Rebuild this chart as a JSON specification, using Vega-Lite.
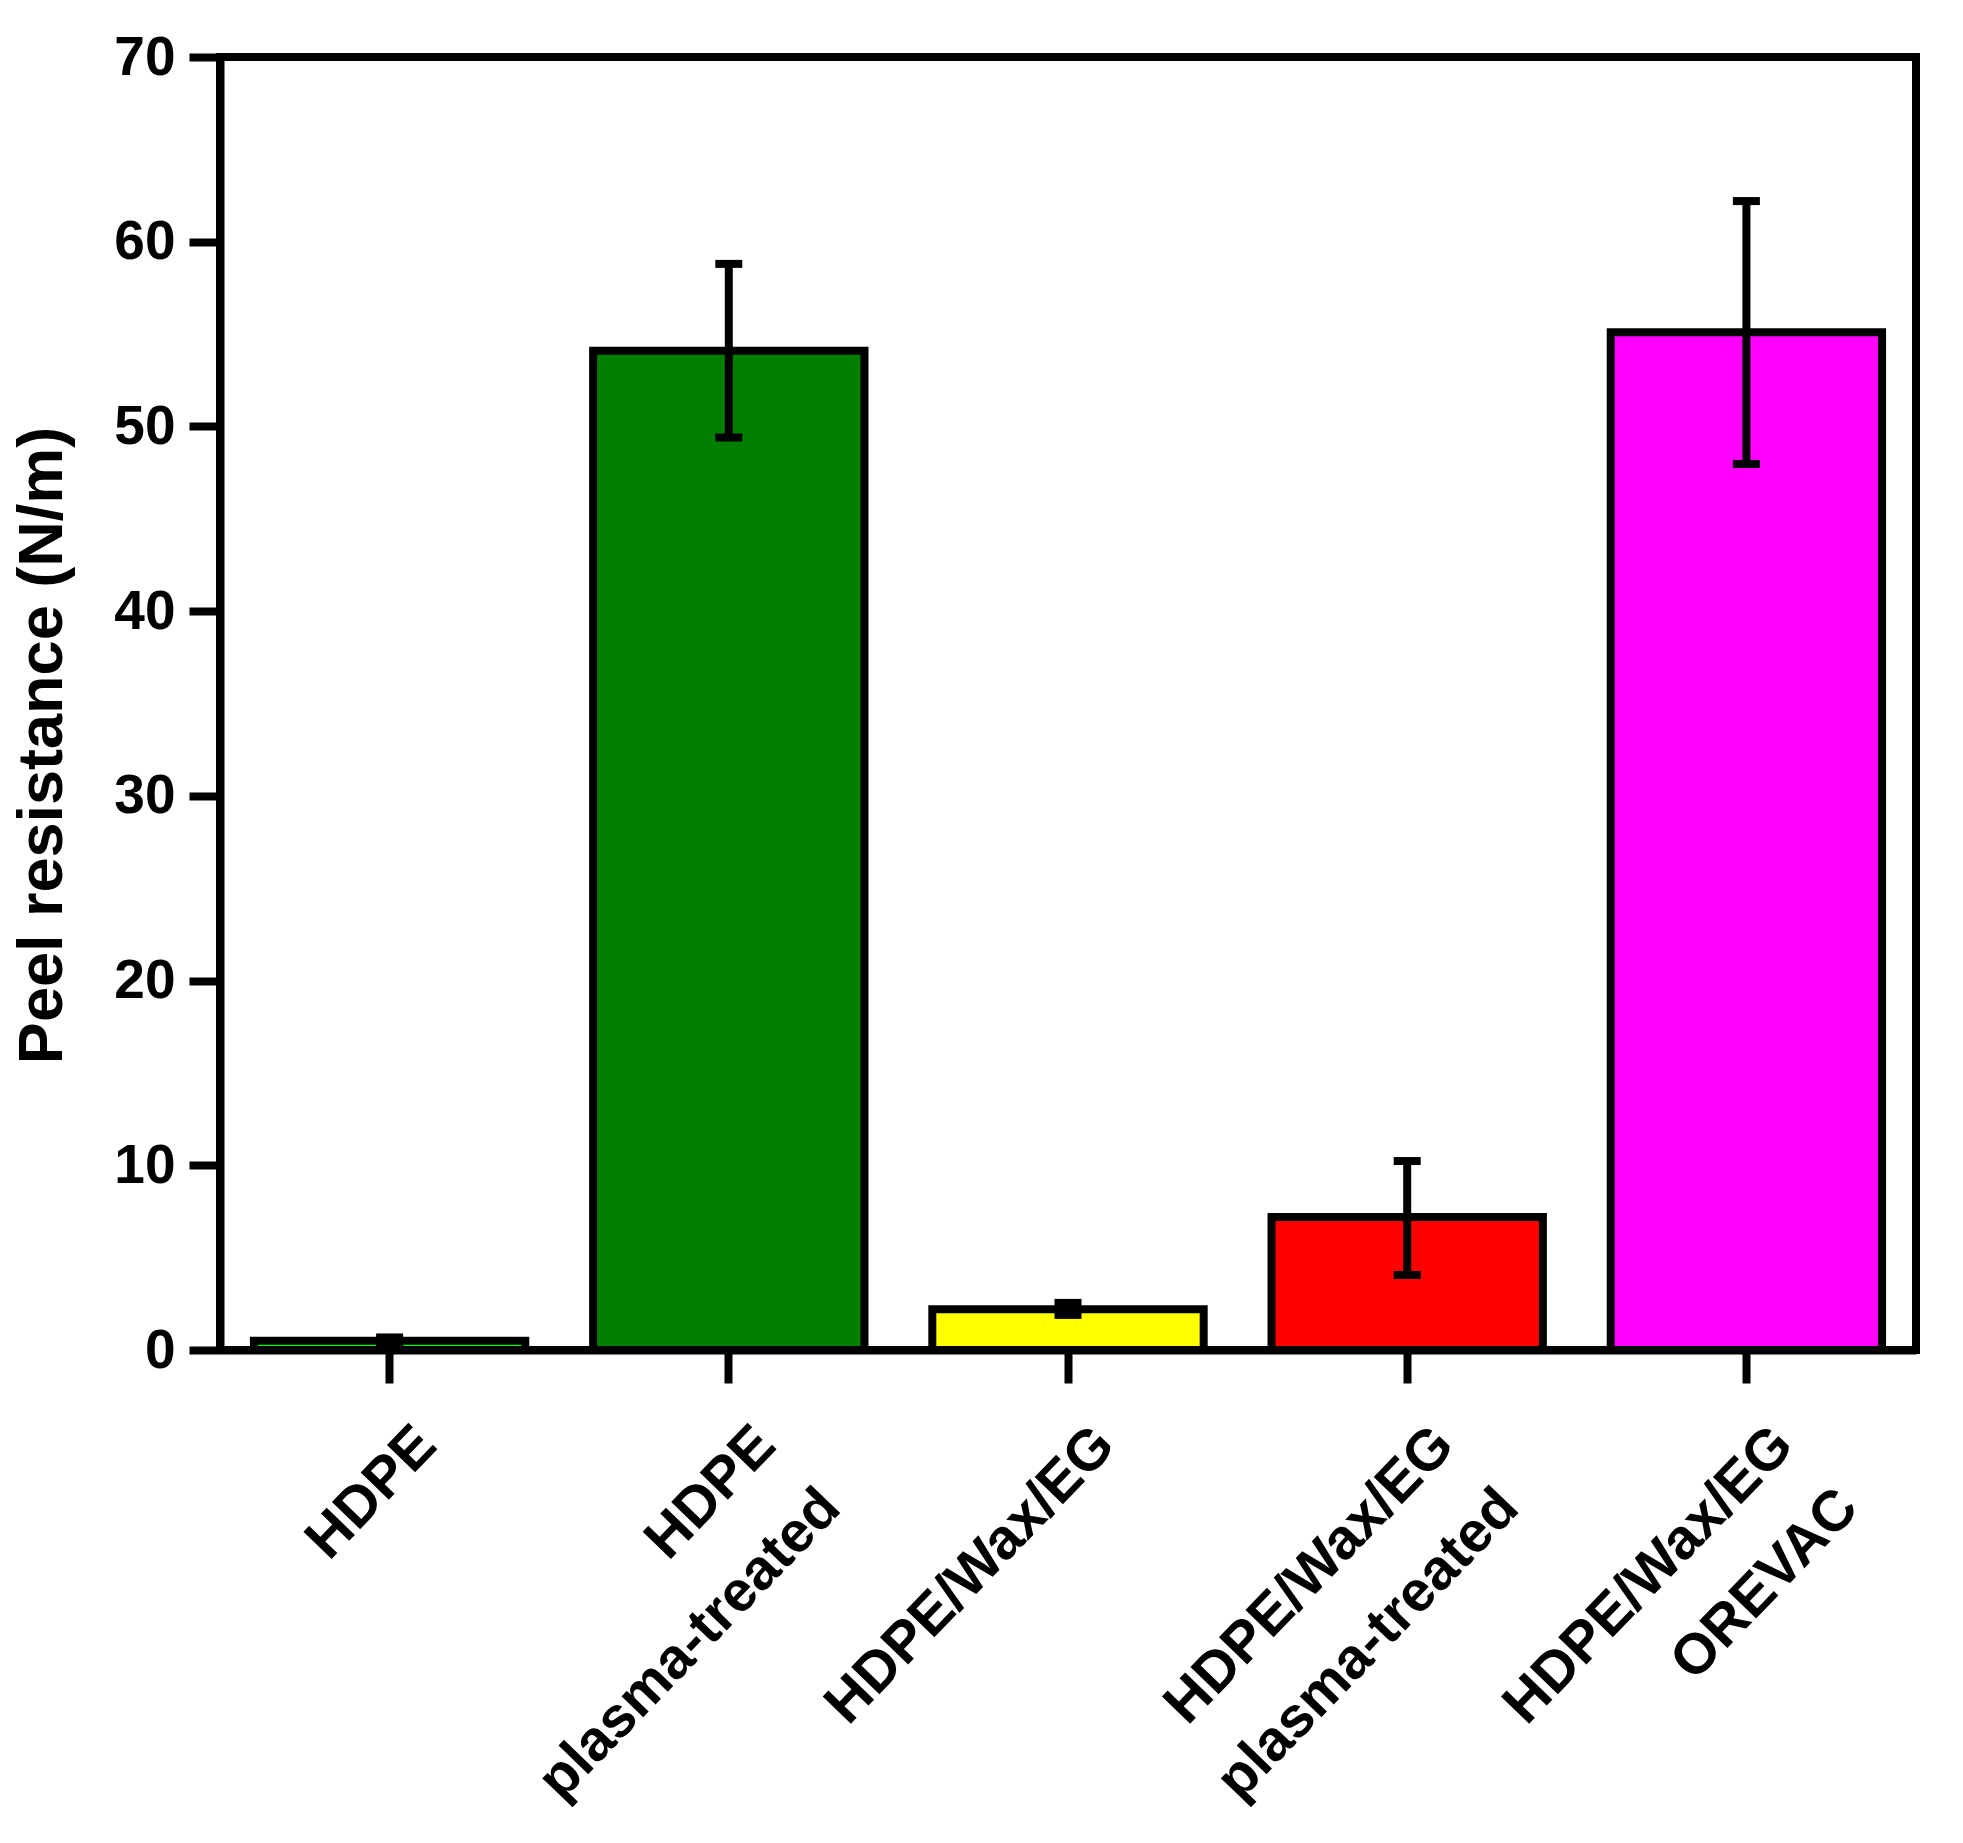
{
  "$schema": "https://vega.github.io/schema/vega-lite/v6.json",
  "width": 1696,
  "height": 1293,
  "autosize": {"type": "none"},
  "padding": {"left": 220, "top": 57, "right": 47, "bottom": 493},
  "background": "white",
  "config": {
    "view": {"stroke": "black", "strokeWidth": 8},
    "font": "Liberation Sans"
  },
  "data": {
    "values": [
      {"sample": "HDPE", "peel": 0.5, "low": 0.32, "high": 0.68},
      {"sample": "HDPE plasma-treated", "peel": 54.1, "low": 49.4, "high": 58.8},
      {"sample": "HDPE/Wax/EG", "peel": 2.2, "low": 1.9, "high": 2.55},
      {"sample": "HDPE/Wax/EG plasma-treated", "peel": 7.2, "low": 4.06, "high": 10.23},
      {"sample": "HDPE/Wax/EG OREVAC", "peel": 55.1, "low": 47.97, "high": 62.2}
    ]
  },
  "encoding": {
    "x": {
      "field": "sample",
      "type": "nominal",
      "sort": null,
      "scale": {"paddingInner": 0.2, "paddingOuter": 0.1},
      "axis": {
        "title": null,
        "labelExpr": "split(datum.label, ' ')",
        "labelAngle": -46,
        "labelAlign": "right",
        "labelBaseline": "top",
        "labelFont": "Liberation Sans",
        "labelFontSize": 57,
        "labelFontWeight": "bold",
        "labelColor": "black",
        "labelLimit": 0,
        "labelOverlap": false,
        "labelPadding": 33,
        "labelOffset": 17,
        "labelLineHeight": 90,
        "tickSize": 33,
        "tickWidth": 8,
        "tickColor": "black",
        "domainColor": "black",
        "domainWidth": 8
      }
    }
  },
  "layer": [
    {
      "mark": {"type": "bar", "stroke": "black", "strokeWidth": 8},
      "encoding": {
        "y": {
          "field": "peel",
          "type": "quantitative",
          "title": "Peel resistance (N/m)",
          "scale": {"domain": [0, 70], "nice": false},
          "axis": {
            "values": [0, 10, 20, 30, 40, 50, 60, 70],
            "grid": false,
            "labelFont": "Liberation Sans",
            "labelFontSize": 55,
            "labelFontWeight": "bold",
            "labelColor": "black",
            "labelPadding": 14,
            "tickSize": 31,
            "tickWidth": 8,
            "tickColor": "black",
            "domainColor": "black",
            "domainWidth": 8,
            "titleFont": "Liberation Sans",
            "titleFontSize": 63,
            "titleFontWeight": "bold",
            "titleColor": "black",
            "titleX": -178,
            "titleY": 688,
            "titleAngle": -90,
            "titleAlign": "center",
            "titleBaseline": "middle"
          }
        },
        "color": {
          "field": "sample",
          "type": "nominal",
          "legend": null,
          "scale": {
            "domain": ["HDPE", "HDPE plasma-treated", "HDPE/Wax/EG", "HDPE/Wax/EG plasma-treated", "HDPE/Wax/EG OREVAC"],
            "range": ["#00FF00", "#007F00", "#FFFF00", "#FF0000", "#FF00FF"]
          }
        }
      }
    },
    {
      "mark": {"type": "rule", "color": "black", "strokeWidth": 8},
      "encoding": {
        "y": {"field": "low", "type": "quantitative", "title": "Peel resistance (N/m)"},
        "y2": {"field": "high"}
      }
    },
    {
      "mark": {"type": "tick", "color": "black", "thickness": 8, "size": 27, "opacity": 1},
      "encoding": {
        "y": {"field": "low", "type": "quantitative", "title": "Peel resistance (N/m)"}
      }
    },
    {
      "mark": {"type": "tick", "color": "black", "thickness": 8, "size": 27, "opacity": 1},
      "encoding": {
        "y": {"field": "high", "type": "quantitative", "title": "Peel resistance (N/m)"}
      }
    }
  ]
}
